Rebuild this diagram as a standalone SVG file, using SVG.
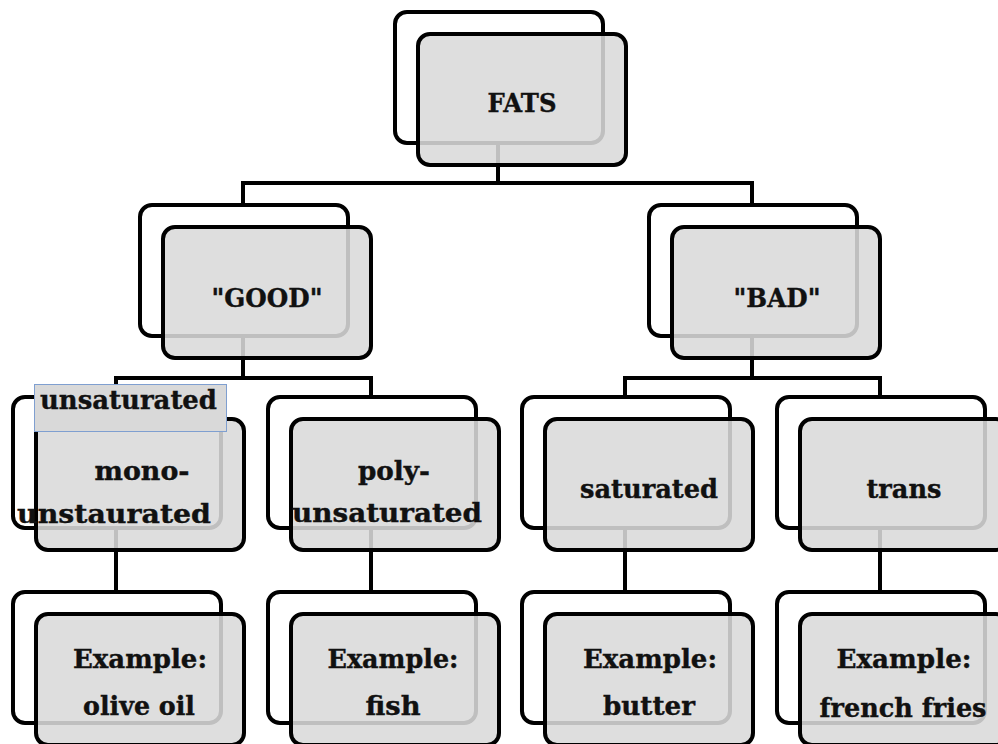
<svg xmlns="http://www.w3.org/2000/svg" width="998" height="744" viewBox="0 0 998 744">
  <style>
    .back { fill: #ffffff; stroke: #000000; stroke-width: 4; }
    .front { fill: #d9d9d9; fill-opacity: 0.88; stroke: #000000; stroke-width: 4; }
    .link { fill: none; stroke: #000000; stroke-width: 4; }
    .t { font-family: "DejaVu Serif", "Liberation Serif", serif; font-weight: bold; font-size: 26.5px; fill: #111111; stroke: #111111; stroke-width: 0.4; text-anchor: middle; }
    .lbl { fill: #d9d9d9; stroke: #7f9fd0; stroke-width: 1; }
  </style>
  <defs>
    <rect id="backBox" class="back" x="2" y="2" width="208" height="131" rx="12"/>
    <rect id="frontBox" class="front" x="25" y="24" width="208" height="131" rx="12"/>
  </defs>

  <!-- connectors -->
  <g id="connectors">
    <path class="link" d="M498,141 V183 M243,203 V183 H752 V203"/>
    <path class="link" d="M243,334 V378 M116,395 V378 H371 V395"/>
    <path class="link" d="M752,334 V378 M625,395 V378 H880 V395"/>
    <path class="link" d="M116,526 V590 M371,526 V590 M625,526 V590 M880,526 V590"/>
  </g>

  <!-- level 1 -->
  <g id="fats" transform="translate(393,10)">
    <use href="#backBox"/><use href="#frontBox"/>
    <text class="t" x="129" y="102" textLength="69" lengthAdjust="spacingAndGlyphs">FATS</text>
  </g>

  <!-- level 2 -->
  <g id="good" transform="translate(138,203)">
    <use href="#backBox"/><use href="#frontBox"/>
    <text class="t" x="129" y="104" textLength="111" lengthAdjust="spacingAndGlyphs">"GOOD"</text>
  </g>
  <g id="bad" transform="translate(647,203)">
    <use href="#backBox"/><use href="#frontBox"/>
    <text class="t" x="130" y="104" textLength="87" lengthAdjust="spacingAndGlyphs">"BAD"</text>
  </g>

  <!-- level 3 -->
  <g id="mono" transform="translate(11,395)">
    <use href="#backBox"/><use href="#frontBox"/>
    <text class="t" x="131" y="85" textLength="95" lengthAdjust="spacingAndGlyphs">mono-</text>
    <text class="t" x="103" y="128" textLength="194" lengthAdjust="spacingAndGlyphs">unstaurated</text>
  </g>
  <g id="poly" transform="translate(266,395)">
    <use href="#backBox"/><use href="#frontBox"/>
    <text class="t" x="128" y="85" textLength="72" lengthAdjust="spacingAndGlyphs">poly-</text>
    <text class="t" x="121" y="127" textLength="190" lengthAdjust="spacingAndGlyphs">unsaturated</text>
  </g>
  <g id="saturated" transform="translate(520,395)">
    <use href="#backBox"/><use href="#frontBox"/>
    <text class="t" x="129" y="103" textLength="138" lengthAdjust="spacingAndGlyphs">saturated</text>
  </g>
  <g id="trans" transform="translate(775,395)">
    <use href="#backBox"/><use href="#frontBox"/>
    <text class="t" x="129" y="103" textLength="75" lengthAdjust="spacingAndGlyphs">trans</text>
  </g>

  <!-- level 4 -->
  <g id="olive" transform="translate(11,590)">
    <use href="#backBox"/><use href="#frontBox"/>
    <text class="t" x="129" y="78" textLength="134" lengthAdjust="spacingAndGlyphs">Example:</text>
    <text class="t" x="128" y="125" textLength="112" lengthAdjust="spacingAndGlyphs">olive oil</text>
  </g>
  <g id="fish" transform="translate(266,590)">
    <use href="#backBox"/><use href="#frontBox"/>
    <text class="t" x="127" y="78" textLength="131" lengthAdjust="spacingAndGlyphs">Example:</text>
    <text class="t" x="127" y="125" textLength="55" lengthAdjust="spacingAndGlyphs">fish</text>
  </g>
  <g id="butter" transform="translate(520,590)">
    <use href="#backBox"/><use href="#frontBox"/>
    <text class="t" x="130" y="78" textLength="134" lengthAdjust="spacingAndGlyphs">Example:</text>
    <text class="t" x="129" y="125" textLength="92" lengthAdjust="spacingAndGlyphs">butter</text>
  </g>
  <g id="fries" transform="translate(775,590)">
    <use href="#backBox"/><use href="#frontBox"/>
    <text class="t" x="129" y="78" textLength="135" lengthAdjust="spacingAndGlyphs">Example:</text>
    <text class="t" x="128" y="127" textLength="167" lengthAdjust="spacingAndGlyphs">french fries</text>
  </g>

  <!-- group label -->
  <g id="unsaturated-label">
    <rect class="lbl" x="34.5" y="384.5" width="192" height="47"/>
    <text class="t" x="40" y="409" style="text-anchor:start" textLength="177" lengthAdjust="spacingAndGlyphs">unsaturated</text>
  </g>
</svg>
